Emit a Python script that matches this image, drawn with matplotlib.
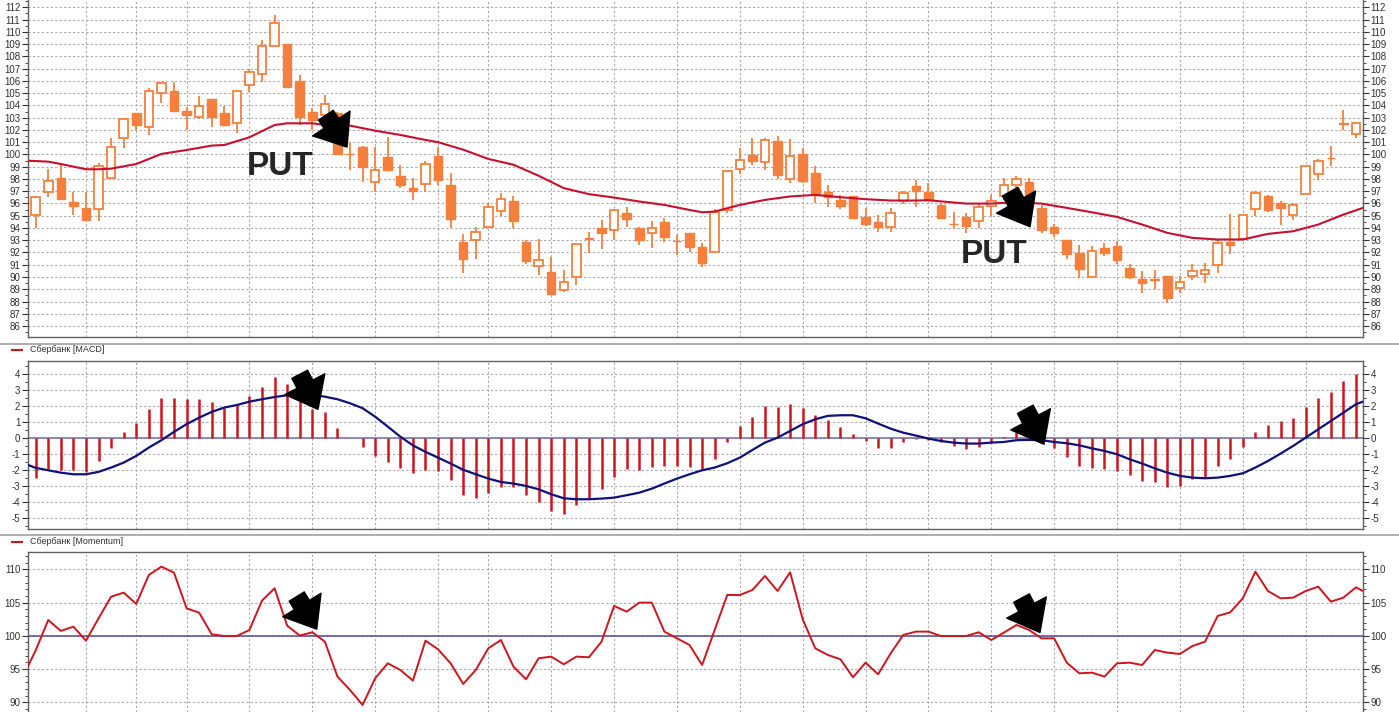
import matplotlib.pyplot as plt
import numpy as np
from matplotlib.lines import Line2D
from matplotlib.ticker import MultipleLocator

plt.rcParams['font.family'] = ['Liberation Sans', 'DejaVu Sans']
plt.rcParams['axes.unicode_minus'] = False

# свечи (open, high, low, close)
opens = [95.06, 96.91, 98.05, 96.15, 95.6, 95.52, 98.05, 101.31, 103.35, 102.21,
         105.04, 105.2, 103.54, 103.08, 104.5, 103.35, 102.54, 105.66, 106.56, 108.87,
         108.98, 106.02, 103.49, 103.22, 103.4, 100.04, 100.58, 97.78, 99.77, 98.24,
         97.24, 97.62, 99.87, 97.51, 92.88, 93.01, 94.05, 95.39, 96.16, 92.88,
         90.91, 90.42, 88.97, 90.0, 93.2, 93.97, 93.83, 95.26, 94.03, 93.56,
         94.52, 92.95, 93.56, 92.41, 92.06, 95.47, 98.83, 99.98, 99.38, 101.07,
         98.0, 100.04, 98.48, 96.9, 96.29, 96.57, 94.87, 94.52, 94.05, 96.16,
         97.44, 96.94, 95.91, 94.35, 94.9, 94.55, 95.83, 96.58, 97.54, 97.73,
         95.64, 94.09, 93.0, 91.97, 90.02, 92.38, 92.51, 90.7, 89.8, 89.8,
         90.07, 89.12, 90.07, 90.21, 90.97, 92.84, 93.06, 95.55, 96.59, 96.04,
         95.09, 96.8, 98.43, 99.72, 102.6, 101.69]
highs = [96.6, 98.79, 99.33, 96.96, 96.96, 99.28, 101.31, 103.0, 103.4, 105.4,
         105.94, 105.94, 103.9, 104.77, 104.5, 103.95, 105.2, 107.0, 109.34, 111.37,
         109.0, 106.48, 103.76, 104.85, 103.5, 101.04, 100.7, 100.64, 101.45, 99.14,
         98.05, 99.5, 100.64, 98.46, 93.48, 94.11, 96.02, 96.84, 96.57, 93.0,
         93.07, 91.65, 90.56, 92.7, 93.7, 94.65, 95.53, 95.75, 94.05, 94.6,
         94.79, 93.42, 93.6, 92.74, 95.53, 98.7, 100.53, 101.35, 101.35, 101.48,
         101.27, 100.53, 99.03, 97.52, 96.7, 96.62, 95.6, 95.06, 95.6, 96.98,
         97.93, 97.67, 96.04, 95.28, 95.23, 96.04, 96.72, 98.08, 98.27, 98.08,
         95.9, 94.36, 93.0, 92.65, 92.51, 92.79, 92.92, 91.1, 90.48, 90.6,
         90.1, 90.07, 91.1, 91.16, 93.06, 95.1, 95.1, 97.0, 96.72, 96.18,
         96.04, 99.1, 99.62, 100.66, 103.6, 102.6]
lows = [93.97, 96.56, 96.37, 95.06, 94.6, 94.6, 98.05, 100.5, 102.0, 101.59,
        104.17, 103.5, 102.0, 102.86, 102.27, 102.4, 101.78, 105.1, 105.94, 108.87,
        105.5, 102.4, 102.0, 103.2, 100.0, 98.73, 97.78, 96.96, 98.7, 97.24,
        96.28, 96.96, 97.5, 93.97, 90.34, 91.43, 94.05, 95.0, 93.97, 91.1,
        90.15, 88.6, 88.78, 89.33, 91.92, 92.28, 93.0, 94.11, 92.6, 92.33,
        92.88, 91.8, 92.0, 90.83, 92.0, 95.2, 98.42, 99.16, 98.75, 98.0,
        97.66, 97.7, 96.02, 95.69, 95.53, 94.75, 94.2, 93.7, 93.64, 95.97,
        95.7, 96.18, 94.74, 94.0, 93.6, 94.0, 94.96, 96.31, 97.26, 96.0,
        93.6, 93.27, 91.5, 89.88, 90.0, 91.7, 91.02, 89.8, 88.71, 89.04,
        87.9, 88.71, 89.72, 89.53, 90.34, 91.84, 93.0, 94.96, 95.28, 94.28,
        94.69, 96.8, 97.94, 99.03, 102.0, 101.3]
closes = [96.56, 97.86, 96.37, 95.82, 94.65, 99.09, 100.64, 102.89, 102.4, 105.2,
          105.86, 103.57, 103.22, 103.95, 103.08, 102.4, 105.2, 106.75, 108.87, 110.69,
          105.53, 103.03, 102.81, 104.11, 100.0, 100.0, 99.0, 98.73, 98.73, 97.51,
          97.02, 99.18, 97.91, 94.7, 91.43, 93.7, 95.69, 96.38, 94.6, 91.29,
          91.38, 88.64, 89.6, 92.66, 93.07, 93.62, 95.47, 94.74, 93.01, 93.97,
          93.29, 92.9, 92.41, 91.16, 95.34, 98.62, 99.52, 99.44, 101.16, 98.34,
          99.9, 97.8, 96.65, 96.51, 95.8, 94.79, 94.3, 94.05, 95.2, 96.84,
          96.98, 96.26, 94.82, 94.3, 94.14, 95.69, 96.18, 97.54, 98.02, 96.26,
          93.87, 93.6, 91.84, 90.67, 92.1, 91.97, 91.35, 90.02, 89.47, 89.75,
          88.31, 89.61, 90.53, 90.61, 92.79, 92.57, 95.04, 96.86, 95.5, 95.64,
          95.91, 99.08, 99.44, 99.68, 102.52, 102.6]

# скользящая средняя (номер свечи, значение)
ma_x = [-0.6, 1, 2, 4, 5, 6, 8, 10, 12, 14, 15, 17, 19, 20, 22, 23, 25, 27, 29, 31,
        32, 34, 36, 38, 40, 42, 44, 46, 48, 50, 52, 53, 54, 56, 58, 60, 62, 64, 66, 68,
        70, 71, 74, 76, 78, 80, 82, 84, 86, 88, 90, 92, 94, 96, 98, 100, 102, 104, 105.56]
ma_val = [99.49, 99.41, 99.22, 98.79, 98.79, 98.84, 99.22, 100.04, 100.36, 100.72,
          100.77, 101.4, 102.4, 102.54, 102.54, 102.4, 102.35, 101.94, 101.59, 101.18,
          101.0, 100.39, 99.63, 99.16, 98.26, 97.25, 96.76, 96.48, 96.16, 95.88,
          95.47, 95.28, 95.34, 95.88, 96.29, 96.57, 96.7, 96.51, 96.35, 96.24,
          96.24, 96.26, 95.99, 95.99, 96.1, 95.99, 95.64, 95.28, 94.9, 94.28,
          93.6, 93.19, 93.06, 93.06, 93.52, 93.73, 94.28, 95.09, 95.64]

macd_hist = [-2.46, -1.94, -1.98, -1.98, -2.1, -1.42, -0.58, 0.4, 0.98, 1.81,
             2.5, 2.54, 2.44, 2.44, 2.27, 1.92, 2.13, 2.65, 3.21, 3.85,
             3.38, 2.9, 1.85, 1.65, 0.67, 0.0, -0.56, -1.1, -1.48, -1.83,
             -2.15, -1.98, -2.04, -2.6, -3.54, -3.71, -3.44, -3.02, -3.02, -3.56,
             -3.96, -4.54, -4.71, -4.19, -3.71, -3.19, -2.42, -1.94, -1.98, -1.77,
             -1.73, -1.73, -1.77, -1.94, -1.27, -0.23, 0.77, 1.35, 2.02, 1.98,
             2.17, 1.88, 1.46, 1.13, 0.71, 0.25, -0.17, -0.58, -0.58, -0.23,
             -0.05, -0.1, -0.25, -0.48, -0.69, -0.52, -0.27, 0.06, 0.4, 0.2,
             -0.2, -0.58, -1.15, -1.73, -1.83, -1.94, -2.04, -2.31, -2.67, -2.73,
             -3.02, -2.98, -2.56, -2.4, -1.73, -1.27, -0.52, 0.42, 0.83, 1.08,
             1.29, 1.96, 2.54, 2.9, 3.58, 4.04]
macd_sig = [-1.67, -1.85, -2.0, -2.15, -2.25, -2.25, -2.1, -1.83, -1.52, -1.1, -0.58,
            -0.12, 0.4, 0.88, 1.29, 1.65, 1.92, 2.08, 2.29, 2.44, 2.58,
            2.69, 2.72, 2.71, 2.6, 2.44, 2.19, 1.88, 1.35, 0.73, 0.1,
            -0.44, -0.85, -1.21, -1.58, -1.97, -2.25, -2.52, -2.73, -2.83, -2.98,
            -3.19, -3.5, -3.75, -3.81, -3.81, -3.77, -3.71, -3.56, -3.4, -3.15,
            -2.83, -2.52, -2.25, -2.0, -1.83, -1.56, -1.21, -0.73, -0.27, 0.04,
            0.46, 0.88, 1.19, 1.4, 1.44, 1.44, 1.25, 0.92, 0.6, 0.35,
            0.17, -0.02, -0.17, -0.27, -0.33, -0.33, -0.27, -0.23, -0.12, -0.1,
            -0.12, -0.23, -0.31, -0.44, -0.63, -0.79, -1.0, -1.31, -1.58, -1.88,
            -2.15, -2.35, -2.46, -2.5, -2.46, -2.35, -2.19, -1.83, -1.42, -0.96,
            -0.48, 0.04, 0.56, 1.08, 1.6, 2.13, 2.29]

momentum = [95.46, 97.8, 102.38, 100.73, 101.38, 99.27, 102.63, 105.89, 106.49, 104.79, 109.15,
            110.4, 109.5, 104.14, 103.48, 100.23, 99.97, 99.97, 100.88, 105.29, 107.14,
            101.53, 100.03, 100.53, 99.12, 93.86, 91.85, 89.6, 93.61, 95.86, 94.86,
            93.26, 99.27, 97.97, 95.86, 92.76, 94.86, 98.12, 99.37, 95.36, 93.46,
            96.62, 96.87, 95.71, 96.87, 96.77, 99.12, 104.49, 103.63, 104.99, 104.99,
            100.63, 99.62, 98.62, 95.61, 100.88, 106.14, 106.14, 106.89, 109.0, 106.74,
            109.55, 102.48, 98.12, 97.12, 96.47, 93.76, 95.96, 94.21, 97.37, 100.13,
            100.63, 100.63, 99.97, 99.97, 99.97, 100.53, 99.37, 100.48, 101.63, 100.88,
            99.62, 99.62, 95.96, 94.36, 94.46, 93.86, 95.86, 95.96, 95.61, 97.87,
            97.47, 97.27, 98.47, 99.12, 102.98, 103.53, 105.64, 109.65, 106.74, 105.64,
            105.74, 106.74, 107.39, 105.14, 105.74, 107.29, 106.74]

# линии сетки по датам (номера свечей)
grid_idx = [4, 8, 12, 17, 22, 27, 32, 36, 41, 46, 51, 56, 61, 66, 71, 76, 81, 86, 91, 96, 101]

# сигналы: (хвост, острие) стрелок
arrows_price = [((23.08, 103.2), (24.76, 100.6)), ((77.5, 96.96), (79.08, 94.1))]
arrows_macd = [((21.0, 4.0), (22.45, 1.81)), ((78.7, 1.81), (80.19, -0.375))]
arrows_mom = [((20.76, 105.9), (22.35, 101.0)), ((78.4, 105.67), (79.87, 100.5))]
put_labels = [(16.8, 98.32), (73.56, 91.17)]

orange = '#F5803E'
grid_c = '#a8a8a8'
n = len(opens)
x = np.arange(n)
edge_x = np.r_[-0.6, x, 105.56]
xmin, xmax = -0.61, 105.56

fig = plt.figure(figsize=(13.99, 7.12), dpi=100)
W, H = 1399.0, 712.0
ax1 = fig.add_axes([28 / W, 1 - 337.3 / H, 1335 / W, 337.3 / H])
ax2 = fig.add_axes([28 / W, 1 - 529.3 / H, 1335 / W, 168.6 / H])
ax3 = fig.add_axes([28 / W, 0, 1335 / W, 1 - 552.3 / H])


def style_axis(ax, major, minor):
    ax.set_xlim(xmin, xmax)
    ax.yaxis.set_major_locator(MultipleLocator(major))
    ax.yaxis.set_minor_locator(MultipleLocator(minor))
    ax.tick_params(axis='y', which='both', left=True, right=True, labelleft=True,
                   labelright=True, direction='out', colors='#303030', labelsize=7, pad=1.5)
    ax.tick_params(axis='y', which='major', length=4, width=0.8)
    ax.tick_params(axis='y', which='minor', length=2, width=0.6)
    ax.tick_params(axis='x', which='both', bottom=False, labelbottom=False)
    ax.grid(axis='y', which='major', color=grid_c, linestyle=(0, (2, 2)), linewidth=0.8)
    for g in grid_idx:
        ax.axvline(g, color=grid_c, linestyle=(0, (2, 2)), linewidth=0.8, zorder=0)
    for s in ax.spines.values():
        s.set_color('#606060')
        s.set_linewidth(1.0)
    ax.set_axisbelow(True)


def draw_arrows(ax, arrows):
    for tail, tip in arrows:
        ax.annotate('', xy=tip, xytext=tail,
                    arrowprops=dict(arrowstyle='simple,head_length=1.2,head_width=1.9,tail_width=0.75',
                                    mutation_scale=17, fc='black', ec='black',
                                    shrinkA=0, shrinkB=0), zorder=10)


# свечной график
style_axis(ax1, 1, 0.5)
ax1.set_ylim(85.08, 112.6)
ax1.spines['top'].set_visible(False)
o = np.array(opens)
c = np.array(closes)
up = c >= o
ax1.vlines(x, lows, highs, color=orange, linewidth=1.3, zorder=2)
ax1.bar(x[up], (c - o)[up], bottom=o[up], width=0.68, facecolor='white',
        edgecolor=orange, linewidth=1.3, zorder=3)
ax1.bar(x[~up], (c - o)[~up], bottom=o[~up], width=0.68, facecolor=orange,
        edgecolor=orange, linewidth=1.0, zorder=3)
ax1.plot(ma_x, ma_val, color='#C8102E', linewidth=1.5, zorder=4)
draw_arrows(ax1, arrows_price)
for px, py in put_labels:
    ax1.text(px, py, 'PUT', fontsize=24, fontweight='bold', color='#262626',
             ha='left', va='baseline', zorder=11)

# MACD
style_axis(ax2, 1, 0.5)
ax2.set_ylim(-5.69, 4.85)
ax2.axhline(0, color='#7a7aa8', linewidth=1.2, zorder=1)
ax2.vlines(x, 0, macd_hist, color='#D0141E', linewidth=1.8, zorder=2)
ax2.plot(edge_x, macd_sig, color='#10107A', linewidth=1.6, zorder=3)
draw_arrows(ax2, arrows_macd)

# Momentum
style_axis(ax3, 5, 1)
ax3.set_ylim(88.54, 112.56)
ax3.spines['bottom'].set_visible(False)
ax3.axhline(100, color='#50508C', linewidth=1.1, zorder=1)
ax3.plot(edge_x, momentum, color='#D0141E', linewidth=1.4, zorder=3)
draw_arrows(ax3, arrows_mom)

# разделители и подписи панелей
for yy in [344, 535]:
    fig.add_artist(Line2D([0, 1], [1 - yy / H, 1 - yy / H], color='#a0a0a0', linewidth=1.2))
for yy, name in [(350, 'Сбербанк [MACD]'), (541.5, 'Сбербанк [Momentum]')]:
    fig.add_artist(Line2D([12 / W, 22 / W], [1 - yy / H, 1 - yy / H], color='#D0141E', linewidth=1.5))
    fig.text(30 / W, 1 - yy / H, name, fontsize=6.5, color='#303030', va='center', ha='left')

fig.savefig('out.png', dpi=100)
